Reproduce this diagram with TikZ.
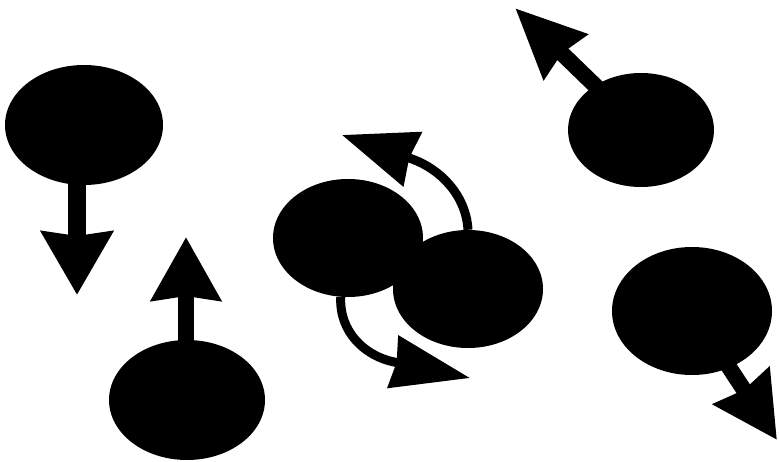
\documentclass[tikz,border=0pt]{standalone}
\usetikzlibrary{shapes.geometric, arrows.meta}

\begin{document}
\begin{tikzpicture}[x=1pt,y=-1pt,
  blob/.style={ellipse, fill=black, inner sep=0pt},
  shaft/.style={line width=16pt},
  bendshaft/.style={line width=9pt}]
\useasboundingbox (0,0) rectangle (779,462);
\node[blob, minimum width=158pt, minimum height=120pt] (e1) at (84,125) {};
\node[blob, minimum width=156pt, minimum height=120pt] (e2) at (187,400) {};
\node[blob, minimum width=150pt, minimum height=118pt] (eA) at (348,238) {};
\node[blob, minimum width=150pt, minimum height=118pt] (eB) at (468,289) {};
\node[blob, minimum width=146pt, minimum height=114pt] (e5) at (641,130) {};
\node[blob, minimum width=160pt, minimum height=128pt] (e6) at (692,311) {};
\coordinate (t1) at (77,295);
\coordinate (t2) at (186,237);
\coordinate (b3) at (412,159);
\coordinate (t3) at (342,135);
\coordinate (b4) at (394,362);
\coordinate (t4) at (470,378);
\coordinate (t5) at (515,8);
\coordinate (t6) at (777,440);
\draw[shaft, line width=18pt, -{Stealth[length=63pt, width=70pt, inset=4pt]}] (e1.center -| t1) -- (t1);
\draw[shaft, -{Stealth[length=63pt, width=68pt, inset=4pt]}] (e2.center -| t2) -- (t2);
\draw[bendshaft, -{Stealth[length=74pt, width=56pt, inset=3pt]}] (eB.north) .. controls (466,195) and (440,169) .. (b3) -- (t3);
\draw[bendshaft, -{Stealth[length=78pt, width=52pt, inset=3pt]}] (eA.263) .. controls (339,332) and (365,356) .. (b4) -- (t4);
\draw[shaft, -{Stealth[length=69pt, width=60pt, inset=4pt]}] (e5.center) -- (t5);
\draw[shaft, -{Stealth[length=64pt, width=65pt, inset=4pt]}] (e6.center) -- (t6);
\end{tikzpicture}
\end{document}
